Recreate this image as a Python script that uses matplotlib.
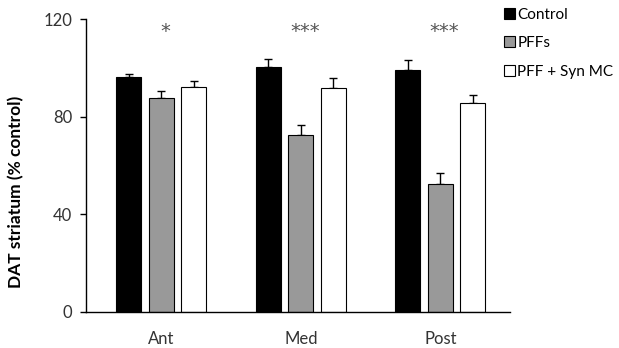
import numpy as np
import matplotlib.pyplot as plt
import matplotlib as mpl

mpl.rcParams["font.family"] = ["Lato", "DejaVu Sans"]

regions  = ["Ant", "Med", "Post"]
series   = ["Control", "PFFs", "PFF + Syn MC"]
means    = {"Control":      [96.4, 100.5, 99.3],
            "PFFs":         [87.7, 72.5, 52.3],
            "PFF + Syn MC": [92.2, 91.7, 85.4]}
errs     = {"Control":      [1.1, 3.3, 4.0],
            "PFFs":         [3.0, 4.1, 4.5],
            "PFF + Syn MC": [2.6, 4.1, 3.3]}
stars    = ["*", "***", "***"]
star_y   = 114.8

colors = {"Control": "black", "PFFs": "#999999", "PFF + Syn MC": "white"}

fig = plt.figure(figsize=(6.19, 3.48), dpi=100)
ax = fig.add_axes([86 / 619, (348 - 312) / 348, (510 - 86) / 619, (312 - 19) / 348])

x = np.arange(len(regions))
width = 0.18
step = 0.233
for i, s in enumerate(series):
    pos = x + (i - 1) * step
    ax.bar(pos, means[s], width, color=colors[s], edgecolor="black", linewidth=0.8,
           label=s, zorder=2)
    ax.errorbar(pos, means[s], yerr=[np.zeros(3), errs[s]], fmt="none",
                ecolor="black", elinewidth=1, capsize=3, capthick=1, zorder=1)

# significance marks, drawn in DejaVu since Lato's asterisk is tiny
for xi, st in zip(x, stars):
    ax.text(xi + 0.03, star_y, st, ha="center", va="center", fontsize=14,
            color="#555555", family="DejaVu Sans")

ax.set_xlim(-0.54, 2.5)
ax.set_ylim(0, 120)
ax.set_yticks([0, 40, 80, 120])
ax.set_xticks(x)
ax.set_xticklabels(regions)
ax.tick_params(axis="x", length=0, pad=14, labelsize=12)
ax.tick_params(axis="y", length=4, width=1, labelsize=12, direction="out", pad=6)
for lab in ax.get_yticklabels() + ax.get_xticklabels():
    lab.set_color("#333333")
ax.spines["top"].set_visible(False)
ax.spines["right"].set_visible(False)
ax.spines["left"].set_linewidth(1)
ax.spines["bottom"].set_linewidth(1)
ax.set_ylabel("DAT striatum (% control)", fontsize=12.5, fontweight="bold")
ax.yaxis.set_label_coords(-62 / 424, (312 - 192) / 293)

ax.legend(loc="upper left", bbox_to_anchor=(496 / 619, 1.0), bbox_transform=fig.transFigure,
          frameon=False, fontsize=11, handlelength=0.75, handleheight=0.75,
          handletextpad=0.15, labelspacing=0.95, borderaxespad=0.3, borderpad=0.2)

fig.savefig("out.png", dpi=100)
